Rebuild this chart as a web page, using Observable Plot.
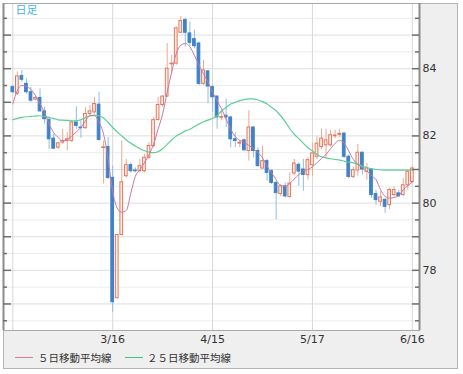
<!DOCTYPE html>
<html>
<head>
<meta charset="utf-8">
<script src="https://cdn.jsdelivr.net/npm/d3@7"></script>
<script src="https://cdn.jsdelivr.net/npm/@observablehq/plot@0.6"></script>
<style>
  body { margin: 0; background: #fff; }
  #wrap { position: relative; width: 463px; height: 374px; overflow: hidden; }
  #panel { position: absolute; left: 3px; top: 3px; width: 455px; height: 366px; box-sizing: border-box; background: #efefef; border: 1px solid #b5b5b5; }
  #chart { position: absolute; left: 0; top: 0; }
  .sw { position: absolute; height: 1px; width: 18px; top: 357px; }
  .lt { position: absolute; top: 351px; font: 10.5px/14px "Noto Sans CJK JP", sans-serif; color: #333; white-space: nowrap; }
</style>
</head>
<body>
<div id="wrap">
  <div id="panel"></div>
  <div id="chart"></div>
  <span class="sw" style="left:15px;background:#dc7f95"></span>
  <span class="lt" style="left:38px">５日移動平均線</span>
  <span class="sw" style="left:125px;background:#3fc47f"></span>
  <span class="lt" style="left:147px">２５日移動平均線</span>
</div>
<script>
// Daily OHLC (index = trading day, 0 .. 88)
const open = [83.45,83.25,83.78,83.55,83.30,83.08,83.13,82.73,82.48,81.92,
81.65,81.80,81.85,81.85,82.40,82.25,82.23,82.65,82.70,82.93,
81.64,81.67,80.75,77.17,79.05,80.80,81.13,80.97,80.95,80.95,
81.35,81.70,82.47,82.92,83.17,84.13,84.15,85.07,85.45,85.05,
84.88,84.75,83.55,83.92,83.45,83.17,82.54,82.60,82.55,81.90,
81.77,81.87,81.55,82.25,81.55,81.03,81.25,80.95,80.60,80.27,
80.50,80.18,80.88,81.14,81.00,80.83,81.13,81.38,81.67,81.72,
81.72,81.99,82.03,82.07,81.38,80.78,80.97,81.50,80.93,81.00,
80.27,80.04,80.10,79.94,80.24,80.29,80.24,80.53,80.63];
const high = [83.50,83.90,83.95,83.70,83.45,83.20,83.40,82.85,82.50,82.05,
81.80,82.20,82.10,82.45,82.87,82.45,82.85,82.90,83.15,83.30,
81.85,81.95,81.10,79.05,81.85,81.30,81.20,81.05,81.30,81.45,
81.80,82.55,83.15,83.20,84.75,84.40,85.25,85.55,85.50,85.40,
85.15,84.80,84.25,83.95,83.50,83.20,82.75,83.10,82.57,82.10,
81.85,81.90,82.75,82.27,81.65,81.70,81.30,81.00,80.65,80.55,
80.60,80.90,81.30,81.20,81.30,81.35,81.78,81.97,82.20,82.20,
82.17,82.17,82.20,82.09,81.43,81.07,81.75,81.52,81.18,81.03,
80.38,80.34,80.13,80.44,80.49,80.39,80.73,80.98,81.08];
const low = [83.25,83.20,83.60,83.25,83.00,83.05,82.70,82.35,81.60,81.60,
81.60,81.75,81.55,81.80,82.20,81.93,82.20,82.60,82.65,81.85,
80.57,80.70,76.75,77.15,79.05,80.75,80.90,80.90,80.90,80.90,
81.30,81.65,82.45,82.85,83.15,83.85,84.10,85.05,84.65,84.65,
84.60,83.50,83.50,82.97,82.70,82.20,82.45,82.25,81.65,81.65,
81.65,81.55,81.25,81.35,81.07,81.00,80.65,80.55,79.50,80.20,
80.15,80.15,80.82,80.50,80.35,80.68,80.80,81.30,81.60,81.30,
81.67,81.92,81.95,81.33,80.73,80.73,80.80,80.83,80.68,80.14,
79.94,79.90,79.70,79.80,80.19,80.17,80.19,80.38,80.58];
const close = [83.30,83.77,83.67,83.30,83.05,83.13,82.73,82.50,81.90,81.62,
81.78,81.85,81.90,82.40,82.30,82.23,82.65,82.73,82.95,81.88,
81.66,80.75,77.05,79.05,80.62,81.13,80.95,80.95,81.10,81.35,
81.70,82.47,82.92,83.17,84.00,84.15,85.20,85.42,85.07,84.77,
84.67,83.55,83.95,83.47,83.15,82.55,82.56,82.55,81.90,81.85,
81.80,81.57,82.25,81.55,81.10,81.25,80.90,80.60,80.30,80.50,
80.20,80.58,81.18,80.94,80.84,81.28,81.48,81.77,81.92,81.87,
82.02,82.01,82.06,81.38,80.78,80.98,81.50,81.00,81.03,80.24,
80.09,80.17,79.89,80.39,80.39,80.20,80.53,80.93,81.03];

// 5-day moving average
const ma5 = [82.95,83.35,83.50,83.47,83.38,83.20,82.95,82.70,82.35,82.10,
81.95,81.85,81.90,82.00,82.12,82.25,82.45,82.60,82.60,82.40,
82.05,81.30,80.35,79.85,79.73,79.78,80.30,80.80,81.00,81.20,
81.45,81.75,82.20,82.65,83.30,83.90,84.45,84.70,84.75,84.65,
84.40,84.10,83.85,83.60,83.30,83.05,82.80,82.50,82.20,81.98,
81.87,81.80,81.72,81.62,81.50,81.35,81.10,80.90,80.70,80.52,
80.50,80.58,80.72,80.85,80.95,81.00,81.08,81.20,81.33,81.45,
81.62,81.78,81.87,81.78,81.55,81.30,81.15,81.05,80.95,80.82,
80.70,80.40,80.20,80.15,80.17,80.22,80.40,80.52,80.63];

// 25-day moving average
const ma25 = [82.48,82.52,82.55,82.57,82.58,82.59,82.60,82.58,82.55,82.52,
82.48,82.47,82.46,82.45,82.45,82.48,82.55,82.60,82.62,82.60,
82.53,82.40,82.25,82.12,82.00,81.88,81.78,81.70,81.62,81.56,
81.52,81.50,81.53,81.62,81.75,81.88,82.00,82.07,82.15,82.20,
82.28,82.35,82.42,82.47,82.52,82.60,82.75,82.85,82.95,83.00,
83.05,83.08,83.10,83.10,83.07,83.02,82.95,82.85,82.75,82.60,
82.42,82.22,82.05,81.92,81.78,81.65,81.55,81.45,81.38,81.35,
81.32,81.30,81.28,81.25,81.22,81.20,81.16,81.10,81.06,81.02,
81.00,80.99,80.98,80.98,80.98,80.98,80.98,80.98,80.98];

// x ticks (trading-day index) and labels
const gridDays = [0, 22, 44, 66, 88];
const tickDays = [22, 44, 66, 88];
const tickLabels = ["3/16", "4/15", "5/17", "6/16"];
// y ticks
const yLabels = [78, 80, 82, 84];
const gridInt = [77, 78, 79, 80, 81, 82, 83, 84, 85];
const gridHalf = [76.5, 77.5, 78.5, 79.5, 80.5, 81.5, 82.5, 83.5, 84.5, 85.5];

const xDomain = [-2.05, 89.58];
const yDomain = [76.21, 85.94];

const candles = open.map((o, i) => ({i, open: o, high: high[i], low: low[i], close: close[i]}));
const up = candles.filter(d => d.close >= d.open);
const down = candles.filter(d => d.close < d.open);
const line5 = ma5.map((v, i) => ({i, v}));
const line25 = ma25.map((v, i) => ({i, v}));

const W = 463, H = 348, ML = 3, MR = 44, MT = 3, MB = 18;
const FW = W - ML - MR;

const chart = Plot.plot({
  width: W, height: H,
  marginLeft: ML, marginRight: MR, marginTop: MT, marginBottom: MB,
  x: {domain: xDomain},
  y: {domain: yDomain},
  style: {background: "transparent", fontFamily: "DejaVu Sans, sans-serif", fontSize: "11px", color: "#333", overflow: "visible"},
  marks: [
    Plot.frame({fill: "white", stroke: null}),
    Plot.ruleY(gridHalf, {stroke: "#ececec"}),
    Plot.ruleY(gridInt, {stroke: "#dedede"}),
    Plot.ruleX(gridDays, {stroke: "#d8d8d8"}),
    // wicks
    Plot.ruleX(up, {x: "i", y1: "low", y2: "high", stroke: "#f2a691"}),
    Plot.ruleX(down, {x: "i", y1: "low", y2: "high", stroke: "#8fbde6"}),
    // bodies
    Plot.rect(up, {x1: d => d.i - 0.3, x2: d => d.i + 0.3, y1: "open", y2: "close", fill: "#fdefea", stroke: "#e2775a", strokeWidth: 1}),
    Plot.rect(down, {x1: d => d.i - 0.3, x2: d => d.i + 0.3, y1: "open", y2: "close", fill: "#3f83c6", stroke: "#3f83c6", strokeWidth: 1}),
    // moving averages
    Plot.line(line25, {x: "i", y: "v", stroke: "#5ccf94", strokeWidth: 1.2, curve: "monotone-x"}),
    Plot.line(line5, {x: "i", y: "v", stroke: "#c978a6", strokeWidth: 1, curve: "monotone-x"}),
    // frame & axis lines
    Plot.frame({stroke: "#a8a8a8"}),
    Plot.ruleX([xDomain[0]], {stroke: "#8c8c8c", strokeWidth: 2}),
    Plot.ruleX([xDomain[1]], {stroke: "#8c8c8c", strokeWidth: 2}),
    // inner tick marks
    Plot.ruleY(gridInt, {stroke: "#6f6f6f", strokeWidth: 1.5, insetRight: FW - 8}),
    Plot.ruleY(gridHalf, {stroke: "#6f6f6f", strokeWidth: 1.5, insetRight: FW - 4}),
    Plot.ruleY(gridInt, {stroke: "#6f6f6f", strokeWidth: 1.5, insetLeft: FW - 7}),
    Plot.ruleY(gridHalf, {stroke: "#6f6f6f", strokeWidth: 1.5, insetLeft: FW - 4}),
    // axes
    Plot.axisX(tickDays, {tickSize: 0, tickPadding: 5, label: null, tickFormat: d => tickLabels[tickDays.indexOf(d)], fill: "#333"}),
    Plot.axisY(yLabels, {anchor: "right", tickSize: 0, tickPadding: 3, label: null, tickFormat: d => String(d), fill: "#333"}),
    // corner label
    Plot.text(["日足"], {frameAnchor: "top-left", dx: 12, dy: 3, textAnchor: "start", lineAnchor: "top", fill: "#45b5e5", fontSize: 11, fontFamily: "Noto Sans CJK JP"})
  ]
});
document.getElementById("chart").appendChild(chart);
</script>
</body>
</html>
